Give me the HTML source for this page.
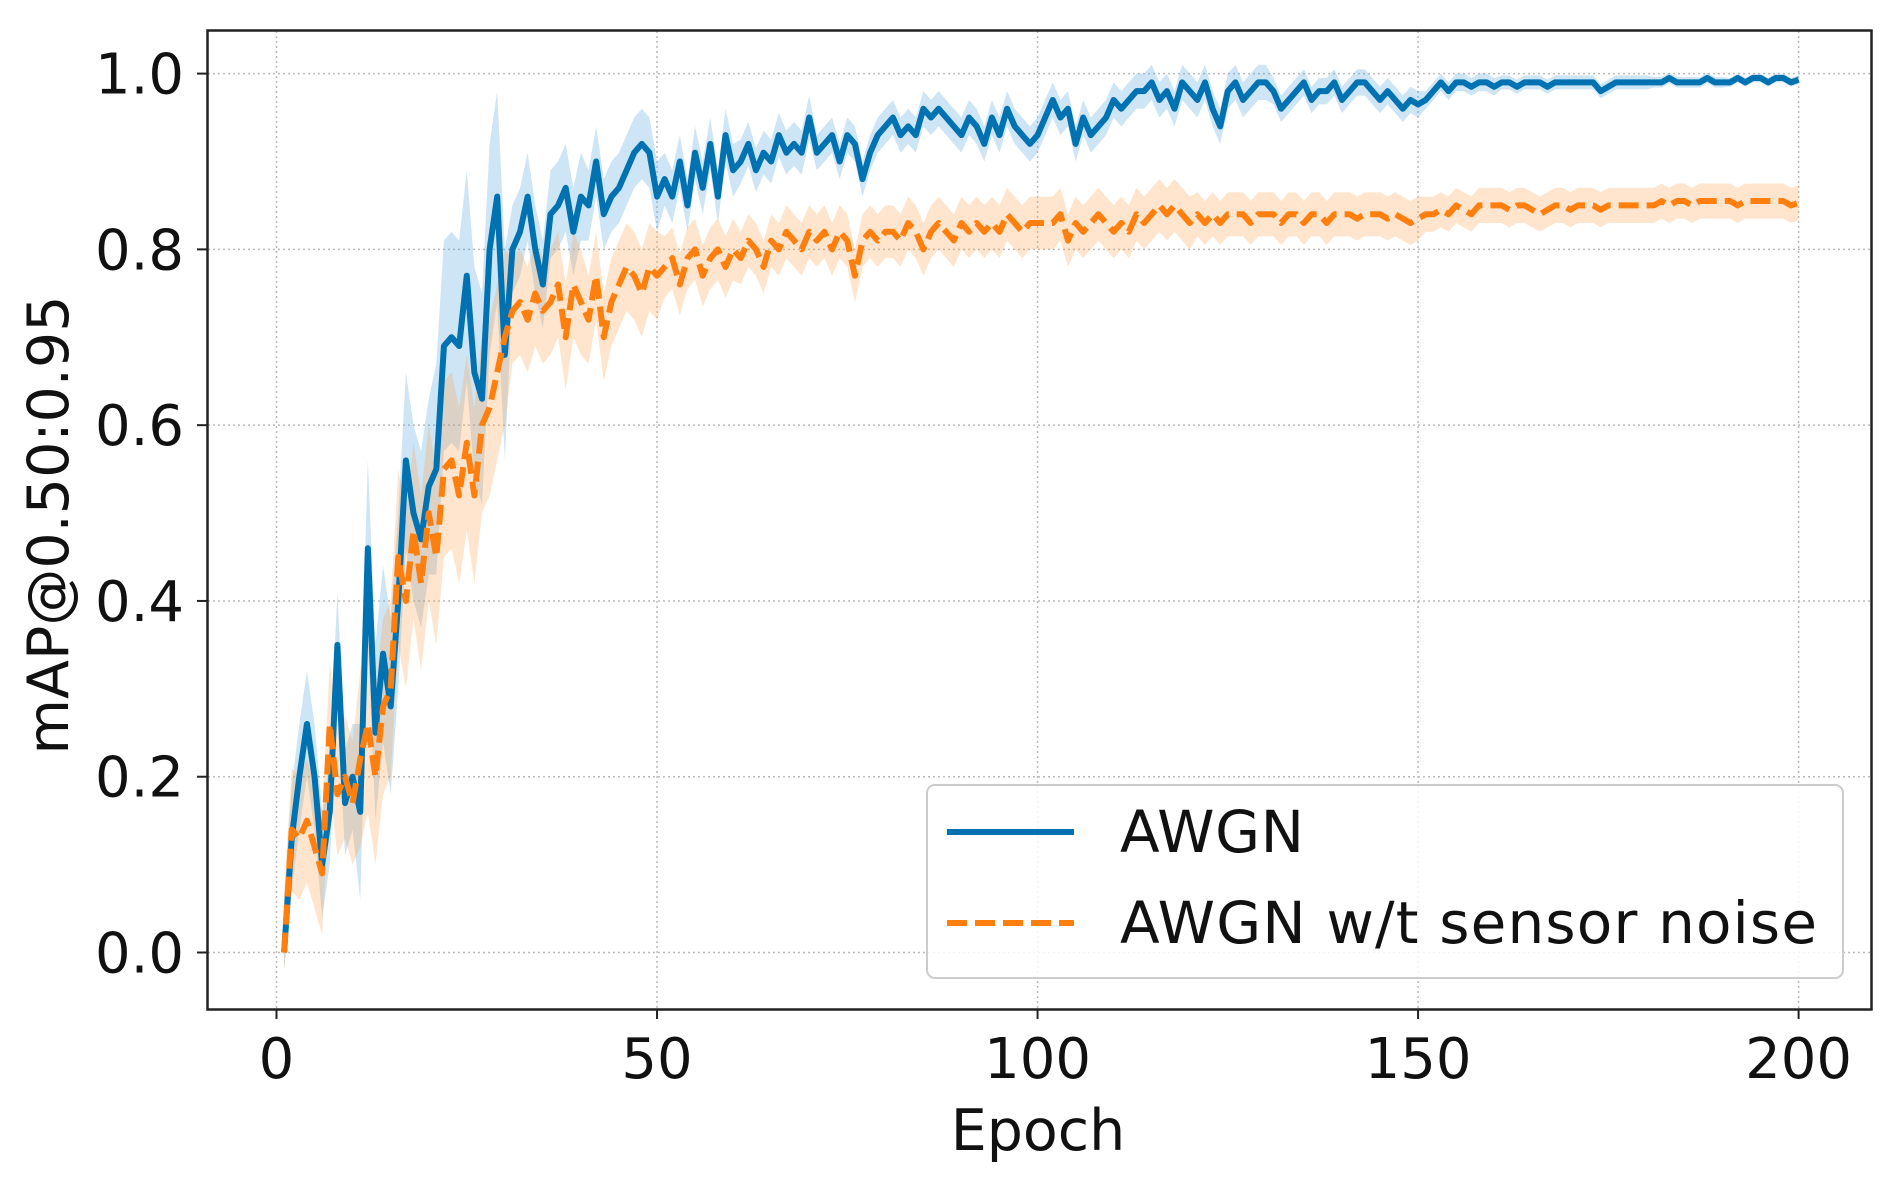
<!DOCTYPE html>
<html><head><meta charset="utf-8"><style>
html,body{margin:0;padding:0;background:#fff;}
svg{display:block;font-family:"DejaVu Sans","Liberation Sans",sans-serif;}
</style></head><body>
<svg id="chart" width="1893" height="1178" viewBox="0 0 1893 1178" xmlns="http://www.w3.org/2000/svg">
<g id="grid"></g>
<g id="bands"></g>
<g id="lines"></g>
<rect x="207.5" y="30.5" width="1664" height="979" fill="none" stroke="#222" stroke-width="2.5"/>
<g id="ticks"></g>
<text x="1038" y="1150" font-size="57" text-anchor="middle" fill="#111">Epoch</text>
<text x="0" y="0" font-size="57" text-anchor="middle" fill="#111" transform="translate(68,525) rotate(-90)">mAP@0.50:0.95</text>
<g>
<rect x="927" y="785" width="916" height="193" rx="8" fill="#fff" fill-opacity="0.85" stroke="#ccc" stroke-width="2"/>
<line x1="947" y1="832" x2="1074" y2="832" stroke="#0072B2" stroke-width="6"/>
<text x="1120" y="852" font-size="58" fill="#111" textLength="184">AWGN</text>
<line x1="947" y1="923" x2="1074" y2="923" stroke="#FF7F0E" stroke-width="6" stroke-dasharray="20,8"/>
<text x="1120" y="943" font-size="58" fill="#111" textLength="697">AWGN w/t sensor noise</text>
</g>
</svg>
<script>
const awgn=[0,0.13,0.2,0.26,0.2,0.1,0.16,0.35,0.17,0.2,
0.16,0.46,0.25,0.34,0.28,0.4,0.56,0.5,0.47,0.53,
0.55,0.69,0.7,0.69,0.77,0.66,0.63,0.8,0.86,0.68,
0.8,0.82,0.86,0.8,0.76,0.84,0.85,0.87,0.82,0.86,
0.85,0.9,0.84,0.86,0.87,0.89,0.91,0.92,0.91,0.86,
0.88,0.86,0.9,0.85,0.91,0.87,0.92,0.86,0.93,0.89,
0.9,0.92,0.89,0.91,0.9,0.93,0.91,0.92,0.91,0.95,
0.91,0.92,0.93,0.9,0.93,0.92,0.88,0.91,0.93,0.94,
0.95,0.93,0.94,0.93,0.96,0.95,0.96,0.95,0.94,0.93,
0.95,0.94,0.92,0.95,0.93,0.96,0.94,0.93,0.92,0.93,
0.95,0.97,0.95,0.96,0.92,0.95,0.93,0.94,0.95,0.97,
0.96,0.97,0.98,0.98,0.99,0.97,0.98,0.96,0.99,0.98,
0.97,0.99,0.96,0.94,0.98,0.99,0.97,0.98,0.99,0.99,
0.98,0.96,0.97,0.98,0.99,0.97,0.98,0.98,0.99,0.97,
0.98,0.99,0.99,0.98,0.97,0.98,0.97,0.96,0.97,0.965,
0.97,0.98,0.99,0.98,0.99,0.99,0.985,0.99,0.99,0.985,
0.99,0.99,0.985,0.99,0.99,0.99,0.985,0.99,0.99,0.99,
0.99,0.99,0.99,0.98,0.985,0.99,0.99,0.99,0.99,0.99,
0.99,0.99,0.995,0.99,0.99,0.99,0.99,0.995,0.99,0.99,
0.99,0.995,0.99,0.995,0.995,0.99,0.995,0.995,0.99,0.993];
const sensor=[0,0.14,0.13,0.15,0.12,0.09,0.26,0.18,0.2,0.17,
0.22,0.26,0.2,0.28,0.3,0.45,0.4,0.48,0.42,0.5,
0.45,0.55,0.56,0.52,0.58,0.52,0.6,0.62,0.66,0.7,
0.73,0.74,0.72,0.75,0.73,0.74,0.76,0.7,0.76,0.74,
0.72,0.77,0.7,0.74,0.76,0.78,0.77,0.75,0.78,0.77,
0.78,0.79,0.76,0.79,0.8,0.77,0.79,0.8,0.78,0.8,
0.79,0.81,0.8,0.78,0.81,0.8,0.82,0.81,0.8,0.82,
0.81,0.82,0.8,0.82,0.81,0.77,0.81,0.82,0.81,0.82,
0.82,0.81,0.83,0.82,0.8,0.82,0.83,0.82,0.81,0.83,
0.82,0.83,0.82,0.83,0.82,0.84,0.83,0.82,0.83,0.83,
0.83,0.83,0.84,0.81,0.83,0.82,0.83,0.84,0.83,0.82,
0.83,0.82,0.84,0.83,0.84,0.85,0.84,0.85,0.84,0.83,
0.84,0.83,0.84,0.83,0.84,0.84,0.84,0.83,0.84,0.84,
0.84,0.83,0.84,0.84,0.83,0.84,0.84,0.83,0.84,0.84,
0.84,0.835,0.84,0.84,0.84,0.835,0.84,0.835,0.83,0.835,
0.84,0.84,0.845,0.84,0.85,0.845,0.84,0.85,0.85,0.85,
0.85,0.845,0.85,0.85,0.845,0.84,0.845,0.85,0.85,0.845,
0.85,0.85,0.85,0.845,0.85,0.85,0.85,0.85,0.85,0.85,
0.85,0.855,0.85,0.855,0.855,0.85,0.855,0.855,0.855,0.855,
0.855,0.85,0.855,0.855,0.855,0.855,0.855,0.855,0.85,0.853];
const awgnSpread=[0.06,0.1,0.12,0.05,0.04,0.03,0.025,0.02,0.02,0.02,0.02,0.02,0.02,0.015,0.015,0.01,0.008,0.008,0.006,0.005];
const sensorSpread=[0.07,0.1,0.1,0.06,0.05,0.035,0.03,0.03,0.03,0.03,0.03,0.03,0.025,0.025,0.025,0.02,0.02,0.02,0.02,0.02];
const xTicks=[0,50,100,150,200];
const yTicks=[0.0,0.2,0.4,0.6,0.8,1.0];

const NS='http://www.w3.org/2000/svg';
const X=e=>276.5+(e/200)*(1798.6-276.5);
const Y=v=>952.5-v*(952.5-73.6);
function mk(tag,attrs,parent){const el=document.createElementNS(NS,tag);for(const k in attrs)el.setAttribute(k,attrs[k]);parent.appendChild(el);return el;}
const grid=document.getElementById('grid'),ticks=document.getElementById('ticks');
xTicks.forEach(t=>{
  const g=mk('line',{x1:X(t),x2:X(t),y1:31,y2:1009,stroke:'#bbb','stroke-width':1.5,'stroke-dasharray':'2,3'},grid);
  
  
  const tk=mk('line',{x1:X(t),x2:X(t),y1:1009,y2:1019,stroke:'#222','stroke-width':2},ticks);
  
  
  const tl=mk('text',{x:X(t),y:1078,'font-size':56,'text-anchor':'middle',fill:'#111'},ticks);
  tl.textContent=t;
  
  
});
yTicks.forEach(t=>{
  const g=mk('line',{x1:208,x2:1871,y1:Y(t),y2:Y(t),stroke:'#bbb','stroke-width':1.5,'stroke-dasharray':'2,3'},grid);
  
  
  const tk=mk('line',{x1:197,x2:207,y1:Y(t),y2:Y(t),stroke:'#222','stroke-width':2},ticks);
  
  
  const tl=mk('text',{x:184,y:Y(t)+20,'font-size':56,'text-anchor':'end',fill:'#111'},ticks);
  tl.textContent=t.toFixed(1);
  
  
});
function band(vals,spread,color,name){
  let up=[],dn=[];
  vals.forEach((v,i)=>{const s=spread[Math.min(spread.length-1,Math.floor(i/10))];up.push(X(i+1)+','+Y(v+s));dn.push(X(i+1)+','+Y(Math.max(-0.02,v-s)));});
  const p=mk('polygon',{points:up.concat(dn.reverse()).join(' '),fill:color,'fill-opacity':0.28},document.getElementById('bands'));
  
  
}
function line(vals,color,dash,name){
  const pts=vals.map((v,i)=>X(i+1)+','+Y(v)).join(' ');
  const a={points:pts,fill:'none',stroke:color,'stroke-width':6,'stroke-linejoin':'round'};
  if(dash)a['stroke-dasharray']=dash;
  const p=mk('polyline',a,document.getElementById('lines'));
  
  
}
band(awgn,awgnSpread,'#4aa3d6','awgn-band');
band(sensor,sensorSpread,'#ffa04a','sensor-noise-band');
line(awgn,'#0072B2',null,'awgn-line');
line(sensor,'#FF7F0E','20,8','sensor-noise-line');
</script>
</body></html>
